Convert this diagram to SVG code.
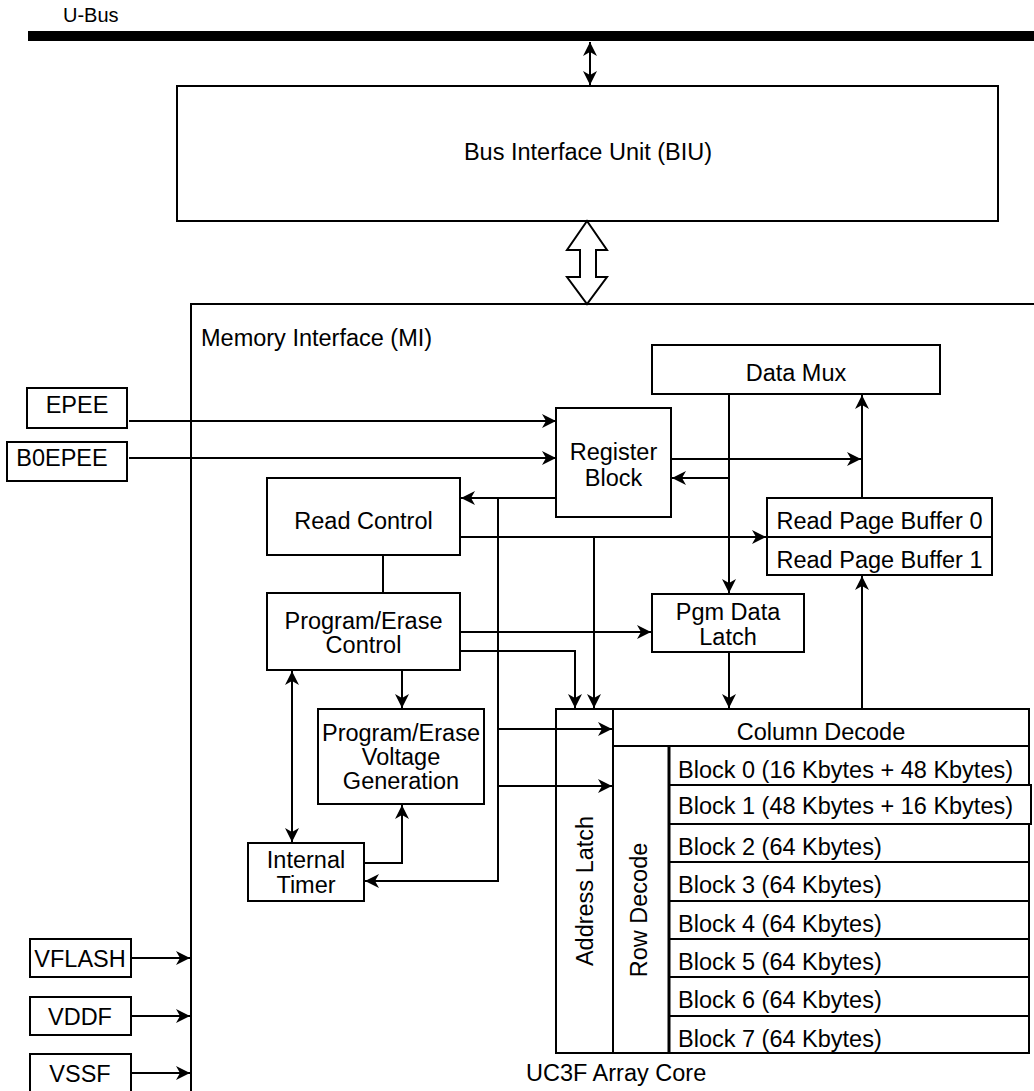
<svg xmlns="http://www.w3.org/2000/svg" width="1034" height="1091" viewBox="0 0 1034 1091">
<defs>
<style>
.b{fill:#fff;stroke:#000;stroke-width:2}
.t{font-family:"Liberation Sans",Arial,sans-serif;font-size:23.5px;fill:#000}
.c{text-anchor:middle}
.w{fill:none;stroke:#000;stroke-width:2}
.a{marker-end:url(#ah)}
.d{marker-start:url(#ah);marker-end:url(#ah)}
</style>
<marker id="ah" viewBox="-14 -7 14 14" refX="0" refY="0" markerWidth="14" markerHeight="14" markerUnits="userSpaceOnUse" orient="auto-start-reverse">
<path d="M0,0 L-14,-7 L-10,0 L-14,7 Z" fill="#000"/>
</marker>
</defs>
<rect width="1034" height="1091" fill="#fff"/>

<g id="ubus">
<rect x="28" y="31" width="1010" height="10" fill="#000"/>
<text class="t" x="63" y="22" style="font-size:20px">U-Bus</text>
</g>

<g id="biu">
<rect class="b" x="177" y="86" width="821" height="135"/>
<text class="t c" x="588" y="160">Bus Interface Unit (BIU)</text>
</g>

<g id="bus-arrow">
<polygon points="587,221 567,250 580,250 580,277 567,277 587,304 607,277 596,277 596,250 607,250" fill="#fff" stroke="#000" stroke-width="2"/>
</g>

<g id="mi">
<path class="w" d="M191,1092 V304 H1036"/>
<text class="t" x="201" y="346">Memory Interface (MI)</text>
</g>

<g id="epee">
<rect class="b" x="27" y="388" width="100" height="40"/>
<text class="t c" x="77" y="413">EPEE</text>
</g>
<g id="b0epee">
<rect class="b" x="7" y="442" width="120" height="39"/>
<text class="t c" x="62" y="466">B0EPEE</text>
</g>

<g id="datamux">
<rect class="b" x="652" y="345" width="288" height="49"/>
<text class="t c" x="796" y="381">Data Mux</text>
</g>

<g id="register-block">
<rect class="b" x="556" y="408" width="115" height="109"/>
<text class="t c" x="613.5" y="460">Register</text>
<text class="t c" x="613.5" y="486">Block</text>
</g>

<g id="read-control">
<rect class="b" x="267" y="478" width="193" height="77"/>
<text class="t c" x="363.5" y="529">Read Control</text>
</g>

<g id="read-page-buffer">
<rect class="b" x="767" y="498" width="225" height="77"/>
<line class="w" x1="767" y1="537" x2="992" y2="537"/>
<text class="t c" x="879.5" y="529">Read Page Buffer 0</text>
<text class="t c" x="879.5" y="568">Read Page Buffer 1</text>
</g>

<g id="pe-control">
<rect class="b" x="267" y="593" width="193" height="77"/>
<text class="t c" x="363.5" y="629">Program/Erase</text>
<text class="t c" x="363.5" y="653">Control</text>
</g>

<g id="pgm-data-latch">
<rect class="b" x="652" y="594" width="152" height="58"/>
<text class="t c" x="728" y="620">Pgm Data</text>
<text class="t c" x="728" y="645">Latch</text>
</g>

<g id="pe-voltage">
<rect class="b" x="318" y="709" width="166" height="95"/>
<text class="t c" x="401" y="741">Program/Erase</text>
<text class="t c" x="401" y="765">Voltage</text>
<text class="t c" x="401" y="789">Generation</text>
</g>

<g id="internal-timer">
<rect class="b" x="248" y="843" width="116" height="58"/>
<text class="t c" x="306" y="868">Internal</text>
<text class="t c" x="306" y="893">Timer</text>
</g>

<g id="array-core">
<rect class="b" x="556" y="709" width="57" height="344"/>
<rect class="b" x="613" y="709" width="416" height="37"/>
<rect class="b" x="613" y="746" width="56" height="307"/>
<rect class="b" x="669" y="746" width="360" height="39"/>
<rect class="b" x="669" y="785" width="362" height="39"/>
<rect class="b" x="669" y="824" width="360" height="38"/>
<rect class="b" x="669" y="862" width="360" height="39"/>
<rect class="b" x="669" y="901" width="360" height="38"/>
<rect class="b" x="669" y="939" width="360" height="38"/>
<rect class="b" x="669" y="977" width="360" height="39"/>
<rect class="b" x="669" y="1016" width="360" height="37"/>
<line x1="669" y1="746" x2="669" y2="1053" stroke="#000" stroke-width="3"/>
<text class="t c" x="821" y="740">Column Decode</text>
<text class="t" x="678" y="778">Block 0 (16 Kbytes + 48 Kbytes)</text>
<text class="t" x="678" y="814">Block 1 (48 Kbytes + 16 Kbytes)</text>
<text class="t" x="678" y="855">Block 2 (64 Kbytes)</text>
<text class="t" x="678" y="893">Block 3 (64 Kbytes)</text>
<text class="t" x="678" y="932">Block 4 (64 Kbytes)</text>
<text class="t" x="678" y="970">Block 5 (64 Kbytes)</text>
<text class="t" x="678" y="1008">Block 6 (64 Kbytes)</text>
<text class="t" x="678" y="1047">Block 7 (64 Kbytes)</text>
<text class="t c" transform="translate(592.5,891) rotate(-90)">Address Latch</text>
<text class="t c" transform="translate(647,910) rotate(-90)">Row Decode</text>
<text class="t" x="526" y="1081">UC3F Array Core</text>
</g>

<g id="vflash">
<rect class="b" x="30" y="939" width="101" height="38"/>
<text class="t c" x="80" y="966.5">VFLASH</text>
</g>
<g id="vddf">
<rect class="b" x="30" y="997" width="101" height="38"/>
<text class="t c" x="80" y="1024.5">VDDF</text>
</g>
<g id="vssf">
<rect class="b" x="30" y="1054" width="101" height="40"/>
<text class="t c" x="80" y="1082">VSSF</text>
</g>

<g id="connectors">
<path class="w d" d="M590,42 V85"/>
<path class="w a" d="M129,421 H556"/>
<path class="w a" d="M129,458 H556"/>
<path class="w a" d="M556,498 H461"/>
<path class="w a" d="M498,498 V881 H365"/>
<path class="w a" d="M498,729 H612"/>
<path class="w a" d="M498,786 H612"/>
<path class="w a" d="M460,537 H766"/>
<path class="w a" d="M594,537 V708"/>
<path class="w a" d="M671,459 H861"/>
<path class="w a" d="M862,498 V395"/>
<path class="w a" d="M729,394 V593"/>
<path class="w a" d="M729,478 H672"/>
<path class="w a" d="M729,652 V708"/>
<path class="w a" d="M862,709 V576"/>
<path class="w" d="M383,555 V593"/>
<path class="w a" d="M460,632 H651"/>
<path class="w a" d="M460,651 H575 V708"/>
<path class="w a" d="M402,670 V708"/>
<path class="w d" d="M292,671 V842"/>
<path class="w a" d="M364,863 H402 V805"/>
<path class="w a" d="M131,958 H190"/>
<path class="w a" d="M131,1016 H190"/>
<path class="w a" d="M131,1073 H190"/>
</g>
</svg>
